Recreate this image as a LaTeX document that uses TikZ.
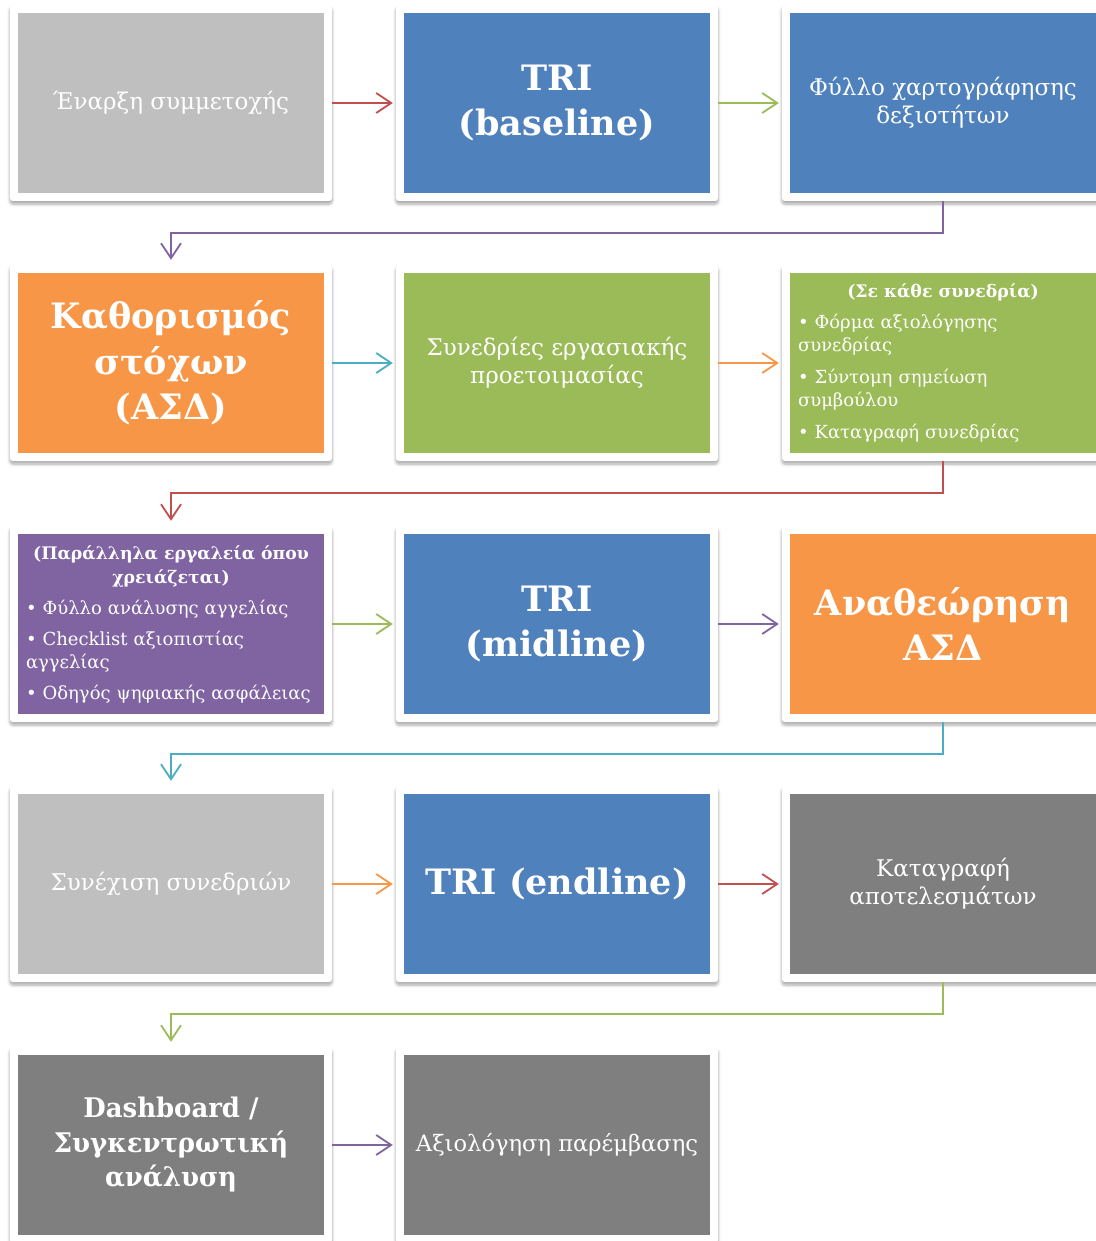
\documentclass[tikz,border=0pt]{standalone}
\usepackage{fontspec}
\usepackage{graphicx}
\setmainfont{DejaVu Serif}
\usetikzlibrary{arrows.meta,shadows.blur}

\definecolor{cgray}{HTML}{BFBFBF}
\definecolor{cdark}{HTML}{7F7F7F}
\definecolor{cblue}{HTML}{4F81BD}
\definecolor{corange}{HTML}{F79646}
\definecolor{cgreen}{HTML}{9BBB59}
\definecolor{cpurple}{HTML}{8064A2}
\definecolor{cred}{HTML}{C0504D}
\definecolor{cteal}{HTML}{4BACC6}

\tikzset{
  frame/.style={fill=white, minimum width=322pt, minimum height=196pt,
    inner sep=0pt, rounded corners=3pt,
    blur shadow={shadow xshift=0pt, shadow yshift=-3pt, shadow blur steps=6,
      shadow blur radius=3pt, shadow opacity=35}},
  box/.style={minimum width=306pt, minimum height=180pt, inner sep=0pt,
    text=white, align=center, font=\fontsize{23}{28}\selectfont},
  big/.style={font=\fontsize{35}{45.5}\selectfont\bfseries},
  listbox/.style={box, text width=290pt, align=left,
    font=\fontsize{18}{23}\selectfont},
  conn/.style={line width=1.8pt, -{Straight Barb[length=15pt,width=20pt,line width=1.8pt]}},
}
\newcommand{\listtitle}[1]{\makebox[290pt]{\fontsize{17.3}{23}\selectfont\bfseries #1}}

\begin{document}
\begin{tikzpicture}[x=1pt,y=-1pt]
\useasboundingbox (0,0) rectangle (1095,1241);

% white frames with soft shadows
\foreach \name/\px/\py in {
  f11/171/103, f12/557/103, f13/943/103,
  f21/171/363, f22/557/363, f23/943/363,
  f31/171/624, f32/557/624, f33/943/624,
  f41/171/884, f42/557/884, f43/943/884,
  f51/171/1145, f52/557/1145}
  \node[frame] (\name) at (\px,\py) {};

% row 1
\node[box, fill=cgray] (n11) at (171,103) {Έναρξη συμμετοχής};
\node[box, big, fill=cblue] (n12) at (557,103) {TRI\\(baseline)};
\node[box, fill=cblue] (n13) at (943,103) {Φύλλο χαρτογράφησης\\δεξιοτήτων};

% row 2
\node[box, big, fill=corange] (n21) at (171,363) {Καθορισμός\\στόχων\\(ΑΣΔ)};
\node[box, fill=cgreen] (n22) at (557,363) {Συνεδρίες εργασιακής\\προετοιμασίας};
\node[listbox, fill=cgreen] (n23) at (943,363) {%
  \listtitle{(Σε κάθε συνεδρία)}\\[8pt]
  • Φόρμα αξιολόγησης\\συνεδρίας\\[9pt]
  • Σύντομη σημείωση\\συμβούλου\\[9pt]
  • Καταγραφή συνεδρίας};

% row 3
\node[listbox, fill=cpurple] (n31) at (171,624) {%
  \listtitle{(Παράλληλα εργαλεία όπου}\\[1pt]
  \listtitle{χρειάζεται)}\\[8pt]
  • Φύλλο ανάλυσης αγγελίας\\[8pt]
  • Checklist αξιοπιστίας\\αγγελίας\\[8pt]
  • Οδηγός ψηφιακής ασφάλειας};
\node[box, big, fill=cblue] (n32) at (557,624) {TRI\\(midline)};
\node[box, big, fill=corange] (n33) at (943,624) {Αναθεώρηση\\ΑΣΔ};

% row 4
\node[box, fill=cgray] (n41) at (171,884) {Συνέχιση συνεδριών};
\node[box, big, fill=cblue] (n42) at (557,884) {TRI (endline)};
\node[box, fill=cdark] (n43) at (943,884) {Καταγραφή\\αποτελεσμάτων};

% row 5
\node[box, fill=cdark, font=\fontsize{27}{34.5}\selectfont\bfseries] (n51) at (171,1145)
  {\scalebox{0.96}[1]{Dashboard /}\\\scalebox{0.96}[1]{Συγκεντρωτική}\\\scalebox{0.96}[1]{ανάλυση}};
\node[box, fill=cdark, font=\fontsize{22.6}{28}\selectfont] (n52) at (557,1145)
  {Αξιολόγηση παρέμβασης};

% horizontal connectors
\draw[conn, cred]    (f11.east) -- ([xshift=-3pt]f12.west);
\draw[conn, cgreen]  (f12.east) -- ([xshift=-3pt]f13.west);
\draw[conn, cteal]   (f21.east) -- ([xshift=-3pt]f22.west);
\draw[conn, corange] (f22.east) -- ([xshift=-3pt]f23.west);
\draw[conn, cgreen]  (f31.east) -- ([xshift=-3pt]f32.west);
\draw[conn, cpurple] (f32.east) -- ([xshift=-3pt]f33.west);
\draw[conn, corange] (f41.east) -- ([xshift=-3pt]f42.west);
\draw[conn, cred]    (f42.east) -- ([xshift=-3pt]f43.west);
\draw[conn, cpurple] (f51.east) -- ([xshift=-3pt]f52.west);

% connectors between rows
\draw[conn, cpurple] (f13.south) -- ++(0,32) -| ([yshift=5pt]f21.north);
\draw[conn, cred]    (f23.south) -- ++(0,32) -| ([yshift=5pt]f31.north);
\draw[conn, cteal]   (f33.south) -- ++(0,32) -| ([yshift=5pt]f41.north);
\draw[conn, cgreen]  (f43.south) -- ++(0,32) -| ([yshift=5pt]f51.north);
\end{tikzpicture}
\end{document}
